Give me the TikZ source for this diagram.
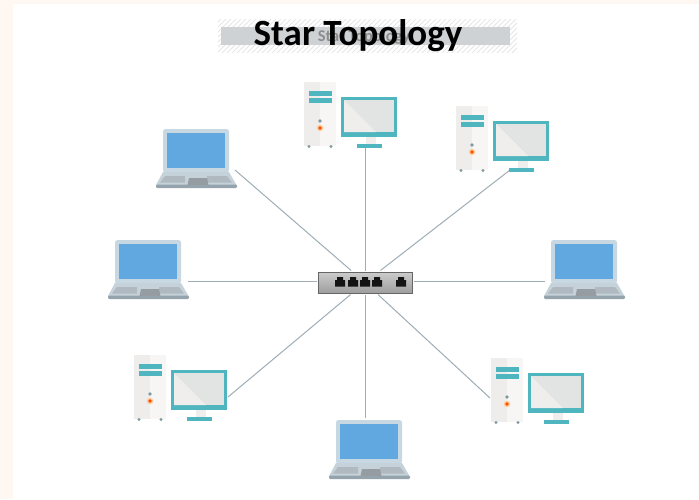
\documentclass[tikz,border=0pt]{standalone}
\usepackage{fontspec}
\setmainfont{Carlito}
\definecolor{pagebg}{HTML}{FFF8F2}
\definecolor{wire}{HTML}{9FADB6}
\definecolor{lapframe}{HTML}{C8D8E2}
\definecolor{lapscreen}{HTML}{62A8E0}
\definecolor{lapbase}{HTML}{C6D2DA}
\definecolor{lapedge}{HTML}{94A3AC}
\definecolor{lapkeys}{HTML}{B0B9BF}
\definecolor{teal}{HTML}{4FB5BE}
\definecolor{tower}{HTML}{EFEDEB}
\definecolor{towerlit}{HTML}{F7F6F4}
\definecolor{feet}{HTML}{7F9BA2}
\definecolor{scrA}{HTML}{E2E3E3}
\definecolor{scrB}{HTML}{F0EEEC}
\definecolor{barfill}{HTML}{CFD2D4}
\definecolor{hatchcol}{HTML}{E6E6E6}
\tikzset{
  wireline/.style={draw=wire,line width=1pt},
  laptop/.pic={
    \fill[lapframe,rounded corners=2.5pt] (0,43.5)--(0,0)--(66,0)--(66,43.5)--cycle;
    \fill[lapscreen] (4,4) rectangle (62,39);
    \fill[lapbase] (0,43)--(66,43)--(73.5,56)--(-7,56)--cycle;
    \fill[lapedge,rounded corners=1.2pt] (-7,55.5) rectangle (74,59);
    \fill[lapkeys] (2,47)--(22,47)--(22,53.5)--(-3,53.5)--cycle;
    \fill[lapkeys] (44,47)--(64,47)--(69,53.5)--(44,53.5)--cycle;
    \fill[lapkeys!85!black] (26,49)--(44,49)--(45.5,56)--(24.5,56)--cycle;
  },
  desktop/.pic={
    \fill[tower] (0,0) rectangle (32,64);
    \fill[towerlit] (16,0) rectangle (32,64);
    \fill[teal] (5,9) rectangle (28,13.5);
    \fill[teal] (5,16) rectangle (28,21);
    \fill[feet] (5,64.5) circle (1.6);
    \fill[feet] (27,64.5) circle (1.6);
    \fill[feet] (16,39) circle (1.8);
    \fill[orange!40!white] (16,46) circle (3.2);
    \fill[orange!60!red] (16,46) circle (1.9);
    \fill[scrB] (62,50) rectangle (72,62);
    \fill[teal] (37,15) rectangle (93,55);
    \fill[scrA] (40,18) rectangle (90,50);
    \fill[scrB] (40,18)--(72,50)--(40,50)--cycle;
    \fill[teal] (53,62) rectangle (78,66);
  }
}
\begin{document}
\begin{tikzpicture}[x=1pt,y=-1pt]
\useasboundingbox (0,0) rectangle (699,499);
\fill[pagebg] (0,0) rectangle (699,499);
\fill[white] (13,4) rectangle (699,499);
% title bar
\begin{scope}
  \clip (218,19) rectangle (517,52);
  \foreach \k in {0,5,...,340}{
    \draw[hatchcol,line width=1pt] (180+\k,55)--(180+\k+38,17);
  }
\end{scope}
\fill[barfill] (221,27) rectangle (510,45);
\node[text=black!45,font=\bfseries\fontsize{16.4}{18}\selectfont,inner sep=0] (subtitle) at (364,37) {Star Topology};
\node[text=black,font=\bfseries\fontsize{37}{40}\selectfont,inner sep=0] (title) at (358,36) {Star Topology};
% connector ends
\coordinate (pTop) at (365,148);
\coordinate (pTopRight) at (510,170);
\coordinate (pTopLeft) at (235,170);
\coordinate (pLeft) at (188,281);
\coordinate (pRight) at (545,281);
\coordinate (pBotLeft) at (228,397);
\coordinate (pBot) at (365,418);
\coordinate (pBotRight) at (490,398);
% hub
\node[draw=black!60,line width=0.8pt,minimum width=94pt,minimum height=21pt,inner sep=0,outer sep=1.5pt,top color=black!20,bottom color=black!38] (hub) at (365,282.5) {};
\foreach \s in {pTop,pTopRight,pTopLeft,pBotLeft,pBot,pBotRight}{
  \draw[wireline] (\s) -- (hub);
}
\draw[wireline] (pLeft) -- (pLeft -| hub.west);
\draw[wireline] (pRight) -- (pRight -| hub.east);
% hub ports
\foreach \px in {340,353,365,377,401}{
  \fill[black!92] (\px-5,286.5)--(\px-5,280)--(\px-3,280)--(\px-3,277)--(\px+3,277)--(\px+3,280)--(\px+5,280)--(\px+5,286.5)--cycle;
}
% devices
\pic at (163,129) {laptop};
\pic at (115,240) {laptop};
\pic at (551,240) {laptop};
\pic at (336,420) {laptop};
\pic at (304,82) {desktop};
\pic at (456,106) {desktop};
\pic at (134,355) {desktop};
\pic at (491,358) {desktop};
\end{tikzpicture}
\end{document}
